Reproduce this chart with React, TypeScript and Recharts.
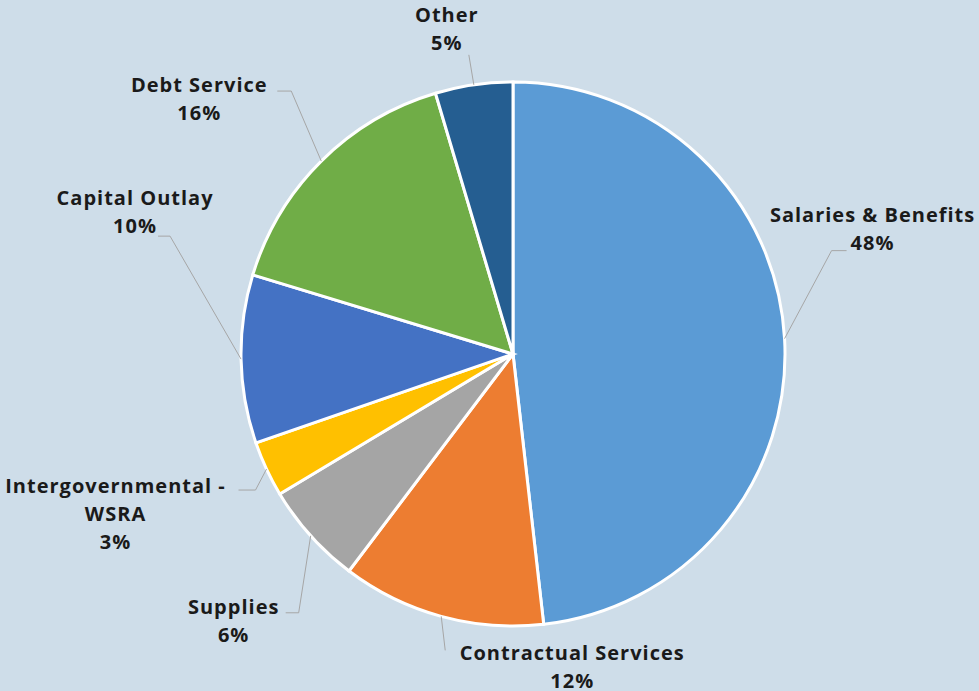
import { Cell, Pie, PieChart } from "recharts";

const categories = [
  "Salaries & Benefits",
  "Contractual Services",
  "Supplies",
  "Intergovernmental - WSRA",
  "Capital Outlay",
  "Debt Service",
  "Other"
];
const shares = [48.2, 12.1, 6.1, 3.3, 10.0, 15.7, 4.6];
const labelLines = [
  ["Salaries & Benefits"],
  ["Contractual Services"],
  ["Supplies"],
  ["Intergovernmental -", "WSRA"],
  ["Capital Outlay"],
  ["Debt Service"],
  ["Other"]
];

const colors = ["#5B9BD5", "#ED7D31", "#A5A5A5", "#FFC000", "#4472C4", "#70AD47", "#255E91"];

// label placement relative to the slice's outer edge midpoint
// tx/ty: text centre of first line, ex/ey: leader elbow, hx: end of horizontal tail
const labelSpots = [
  { tx: 88, ty: -125, ex: 47, ey: -88, hx: 62 },
  { tx: 131, ty: 36, ex: 4, ey: 34, hx: 4 },
  { tx: -77, ty: 70, ex: -12, ey: 77, hx: -25 },
  { tx: -151, ty: 16, ex: -11, ey: 21, hx: -28 },
  { tx: -106, ty: -162, ex: -71, ey: -123, hx: -83 },
  { tx: -122, ty: -77, ex: -30, ey: -70, hx: -44 },
  { tx: -27, ty: -71, ex: -5, ey: -30, hx: -5 }
];

const data = categories.map((name, i) => ({ name, value: shares[i] }));
const total = shares.reduce((a, b) => a + b, 0);
const RAD = Math.PI / 180;

const renderLabel = (props: any) => {
  const { cx, cy, midAngle, outerRadius, index } = props;
  const sx = cx + Math.cos(-midAngle * RAD) * outerRadius;
  const sy = cy + Math.sin(-midAngle * RAD) * outerRadius;
  const spot = labelSpots[index];
  const lines = [...labelLines[index], `${Math.round((shares[index] / total) * 100)}%`];
  return (
    <g>
      <polyline
        points={`${sx},${sy} ${sx + spot.ex},${sy + spot.ey} ${sx + spot.hx},${sy + spot.ey}`}
        fill="none"
        stroke="#A6A6A6"
        strokeWidth={1}
      />
      <text
        x={sx + spot.tx}
        y={sy + spot.ty}
        textAnchor="middle"
        dominantBaseline="central"
        fill="#1A1A1A"
        fontFamily="'Open Sans', sans-serif"
        fontWeight={700}
        fontSize={20}
        letterSpacing={1}
      >
        {lines.map((l, k) => (
          <tspan key={k} x={sx + spot.tx} dy={k === 0 ? 0 : 28}>
            {l}
          </tspan>
        ))}
      </text>
    </g>
  );
};

export default function App() {
  return (
    <div style={{ position: "fixed", left: 0, top: 0, width: 979, height: 691, background: "#CEDDE9" }}>
      <PieChart width={979} height={691} margin={{ top: 0, right: 0, bottom: 0, left: 0 }}>
        <Pie
          data={data}
          dataKey="value"
          nameKey="name"
          cx={513}
          cy={354}
          outerRadius={272}
          startAngle={90}
          endAngle={-270}
          stroke="#FFFFFF"
          strokeWidth={3}
          label={renderLabel}
          labelLine={false}
          isAnimationActive={false}
        >
          {data.map((d, i) => (
            <Cell key={d.name} fill={colors[i]} />
          ))}
        </Pie>
      </PieChart>
    </div>
  );
}
